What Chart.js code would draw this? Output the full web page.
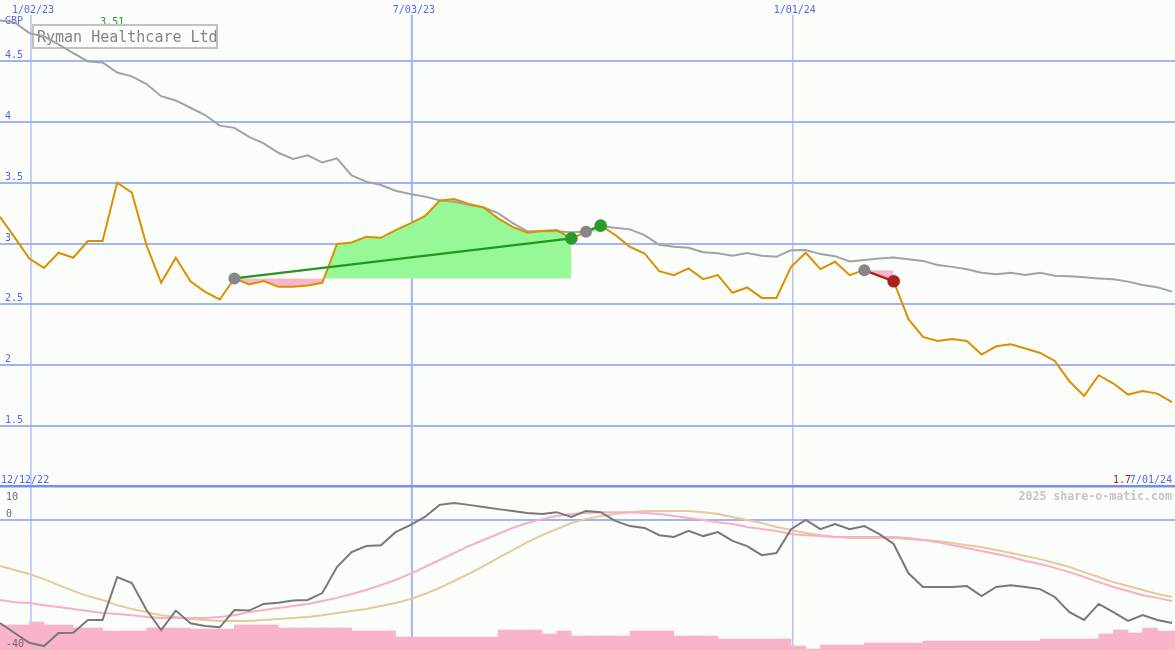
<!DOCTYPE html>
<html><head><meta charset="utf-8">
<script src="https://cdn.jsdelivr.net/npm/chart.js@4.4.1/dist/chart.umd.min.js"></script>
<style>
html,body{margin:0;padding:0;background:#fbfdfb;}
#wrap{position:relative;width:1175px;height:650px;overflow:hidden;background:#fbfdfb;}
#top{position:absolute;left:0;top:0;width:1175px;height:487px;}
#bot{position:absolute;left:0;top:487px;width:1175px;height:163px;}
</style></head><body>
<div id="wrap"><canvas id="top" width="1175" height="487"></canvas><canvas id="bot" width="1175" height="163"></canvas></div>
<script>
// ---- data (weekly, index 0 = first visible week) ----
const price = [3.22,3.05,2.877,2.80,2.924,2.883,3.02,3.02,3.50,3.417,
  2.987,2.677,2.883,2.69,2.603,2.54,2.713,2.664,2.691,2.644,
  2.644,2.655,2.677,2.996,3.009,3.055,3.047,3.11,3.165,3.225,
  3.351,3.365,3.324,3.297,3.206,3.137,3.088,3.102,3.11,3.042,
  3.096,3.147,3.07,2.973,2.918,2.773,2.74,2.795,2.707,2.74,
  2.595,2.639,2.553,2.553,2.808,2.924,2.79,2.85,2.74,2.781,
  2.735,2.69,2.38,2.233,2.2,2.216,2.2,2.088,2.156,2.173,
  2.137,2.101,2.035,1.868,1.748,1.918,1.85,1.759,1.789,1.767,1.698];
const average = [4.832,4.816,4.728,4.70,4.635,4.563,4.495,4.487,4.404,4.373,
  4.31,4.21,4.175,4.115,4.055,3.968,3.95,3.876,3.822,3.745,
  3.695,3.724,3.665,3.70,3.56,3.508,3.48,3.433,3.406,3.385,
  3.355,3.342,3.318,3.297,3.25,3.168,3.10,3.10,3.10,3.092,
  3.097,3.14,3.13,3.116,3.069,2.99,2.973,2.965,2.928,2.92,
  2.90,2.922,2.90,2.891,2.945,2.946,2.913,2.896,2.852,2.864,
  2.877,2.884,2.87,2.857,2.823,2.808,2.788,2.76,2.748,2.759,
  2.741,2.759,2.735,2.732,2.722,2.713,2.706,2.687,2.66,2.64,2.605];
const momentum = [-34.0,-37.3,-40.5,-41.6,-37.3,-37.2,-33.0,-33.0,-18.8,-20.8,
  -29.7,-36.3,-29.9,-34.1,-35.0,-35.4,-29.7,-29.9,-27.7,-27.3,
  -26.6,-26.4,-24.1,-15.5,-10.6,-8.6,-8.3,-4.0,-1.7,1.0,
  5.0,5.6,5.0,4.3,3.6,3.0,2.3,2.0,2.6,1.0,
  3.0,2.6,-0.3,-2.0,-2.6,-5.0,-5.6,-3.6,-5.3,-4.0,
  -6.9,-8.6,-11.6,-10.9,-3.0,0,-3.0,-1.3,-3.0,-2.0,
  -4.6,-7.9,-17.5,-22.1,-22.1,-22.1,-21.8,-25.1,-22.1,-21.5,
  -22.1,-22.8,-25.4,-30.4,-33.0,-27.7,-30.4,-33.3,-31.4,-33.0,-34.0];
const signalFast = [-26.4,-27.1,-27.4,-28.1,-28.7,-29.4,-30.0,-30.7,-31.0,-31.4,
  -32.0,-32.3,-32.3,-32.3,-32.3,-32.0,-31.4,-30.4,-29.7,-29.0,
  -28.4,-27.7,-26.7,-25.7,-24.4,-23.1,-21.5,-19.8,-17.8,-15.5,
  -13.2,-10.9,-8.6,-6.6,-4.6,-2.6,-1.0,0.3,1.3,2.0,
  2.3,2.6,2.6,2.6,2.3,2.0,1.3,0.7,0,-0.7,
  -1.3,-2.3,-3.0,-3.6,-4.6,-5.0,-5.3,-5.6,-5.6,-5.6,
  -5.6,-5.6,-5.9,-6.6,-7.3,-8.3,-9.2,-10.2,-11.2,-12.2,
  -13.5,-14.5,-15.8,-17.2,-18.8,-20.5,-22.1,-23.4,-24.8,-25.7,-26.7];
const signalSlow = [-15.2,-16.5,-17.8,-19.5,-21.5,-23.4,-25.1,-26.4,-28.1,-29.4,
  -30.4,-31.4,-32.0,-32.7,-33.0,-33.3,-33.3,-33.3,-33.0,-32.7,
  -32.3,-32.0,-31.4,-30.7,-30.0,-29.4,-28.4,-27.4,-26.1,-24.4,
  -22.4,-20.1,-17.8,-15.2,-12.5,-9.9,-7.3,-5.0,-3.0,-1.0,
  0.3,1.3,2.0,2.6,3.0,3.0,3.0,3.0,2.6,2.0,
  1.0,0,-1.0,-2.3,-3.3,-4.3,-5.0,-5.6,-5.9,-5.9,
  -5.9,-5.9,-6.3,-6.6,-6.9,-7.6,-8.3,-8.9,-9.9,-10.9,
  -11.9,-12.9,-14.2,-15.5,-17.2,-18.8,-20.5,-21.8,-23.1,-24.4,-25.4];
const volume = [25,25,28,25,25,22,22,19,19,19,
  22,22,22,21,21,21,25,25,25,22,
  22,22,22,22,19,19,19,13,13,13,
  13,13,13,13,20,20,20,16,19,14,
  14,14,14,19,19,19,14,14,14,11,
  11,11,11,11,4,1,5,5,5,7,
  7,7,7,9,9,9,9,9,9,9,
  9,11,11,11,11,16,20,17,22,19,19];
const tradeEntry = [16, 40, 59];
const tradeExit = [39, 41, 61];
const priceTicks = [4.5, 4, 3.5, 3, 2.5, 2, 1.5];
const dateTickPos = [2.116, 28.116, 54.116];
const dateTickLabels = ['1/02/23', '7/03/23', '1/01/24'];
const oscTickVals = [10, 0, -40];
const oscTickLabels = ['10', '0', '-40'];
const title = 'Ryman Healthcare Ltd';
const currency = 'GBP';
const firstDate = '12/12/22';
const lastDate = '7/01/24';
const maxLabel = '3.51';
const lastLabel = '1.7';

// ---- styles ----
const GRID = '#a4b3f2', BLUE = '#5466e8', FONT = '10px "DejaVu Sans Mono", "Liberation Mono", monospace';
const XMAX = 1175 / 14.65;
const pts = arr => arr.map((v, i) => ({x: i, y: v}));
const seg = (a, b) => price.slice(a, b + 1).map((v, k) => ({x: a + k, y: v}));

const topDatasets = [];
topDatasets.push({
  type: 'scatter', data: tradeExit.map(i => ({x: i, y: price[i]})),
  pointRadius: 6.3, pointBorderWidth: 0,
  pointBackgroundColor: tradeExit.map((e, k) => price[e] >= price[tradeEntry[k]] ? '#2a9a2a' : '#a82222'),
  showLine: false
});
topDatasets.push({
  type: 'scatter', data: tradeEntry.map(i => ({x: i, y: price[i]})),
  pointRadius: 6, pointBorderWidth: 0, pointBackgroundColor: '#868686', showLine: false
});
tradeEntry.forEach((e, k) => {
  const x = tradeExit[k];
  topDatasets.push({
    data: [{x: e, y: price[e]}, {x: x, y: price[x]}],
    borderColor: price[x] >= price[e] ? '#229622' : '#b01c1c', borderWidth: 2.2, pointRadius: 0
  });
});
topDatasets.push({data: pts(price), borderColor: '#da9000', borderWidth: 2, pointRadius: 0});
topDatasets.push({data: pts(average), borderColor: '#a2a2a2', borderWidth: 2, pointRadius: 0});
tradeEntry.forEach((e, k) => {
  topDatasets.push({
    data: seg(e, tradeExit[k]), borderWidth: 0, borderColor: 'rgba(0,0,0,0)', pointRadius: 0,
    fill: {target: {value: price[e]}, above: '#97f897', below: '#f9b5c9'}
  });
});

function text(ctx, s, x, y, color, align, font) {
  ctx.font = font || FONT; ctx.fillStyle = color; ctx.textAlign = align || 'left'; ctx.textBaseline = 'alphabetic';
  ctx.fillText(s, x, y);
}

const topDecor = {
  id: 'topDecor',
  beforeDatasetsDraw(chart) {
    const {ctx, scales: {x, y}} = chart;
    ctx.save();
    ctx.strokeStyle = GRID; ctx.lineWidth = 2;
    priceTicks.forEach(v => {
      const py = Math.round(y.getPixelForValue(v));
      ctx.beginPath(); ctx.moveTo(0, py); ctx.lineTo(1175, py); ctx.stroke();
    });
    dateTickPos.forEach((v, k) => {
      const px = x.getPixelForValue(v);
      ctx.lineWidth = k === 1 ? 2 : 1.2;
      ctx.beginPath(); ctx.moveTo(px, 15); ctx.lineTo(px, 487); ctx.stroke();
      text(ctx, dateTickLabels[k], px + 2, 13, BLUE, 'center');
    });
    ctx.fillStyle = '#7b8cf0'; ctx.fillRect(0, 485, 1175, 2.5);
    priceTicks.forEach(v => {
      text(ctx, String(v), 5, y.getPixelForValue(v) - 3, BLUE, 'left');
    });
    text(ctx, currency, 5, 24, BLUE, 'left');
    const imax = price.indexOf(Math.max(...price));
    text(ctx, maxLabel, x.getPixelForValue(imax) - 5, 25, '#1f9a1f', 'center');
    ctx.strokeStyle = '#c2c2c2'; ctx.lineWidth = 2;
    ctx.strokeRect(33, 25, 184, 23);
    text(ctx, title, 37, 42, '#848484', 'left', '15px "DejaVu Sans Mono", "Liberation Mono", monospace');
    text(ctx, firstDate, 1, 483, BLUE, 'left');
    text(ctx, lastDate, 1172, 483, BLUE, 'right');
    text(ctx, lastLabel, 1131, 483, '#aa1c1c', 'right');
    ctx.restore();
  }
};

new Chart(document.getElementById('top'), {
  type: 'line',
  data: {datasets: topDatasets},
  options: {
    responsive: false, animation: false, events: [],
    layout: {padding: 0, autoPadding: false},
    elements: {line: {tension: 0}},
    scales: {
      x: {type: 'linear', min: 0, max: XMAX, display: false},
      y: {type: 'linear', min: 1, max: 5, display: false}
    },
    plugins: {legend: {display: false}, tooltip: {enabled: false}}
  },
  plugins: [topDecor]
});

const botDecor = {
  id: 'botDecor',
  beforeDatasetsDraw(chart) {
    const {ctx, scales: {x, y}} = chart;
    ctx.save();
    ctx.strokeStyle = GRID;
    dateTickPos.forEach((v, k) => {
      const px = x.getPixelForValue(v);
      ctx.lineWidth = k === 1 ? 2 : 1.2;
      ctx.beginPath(); ctx.moveTo(px, 0); ctx.lineTo(px, 163); ctx.stroke();
    });
    ctx.lineWidth = 2;
    const p0 = Math.round(y.getPixelForValue(0));
    ctx.beginPath(); ctx.moveTo(0, p0); ctx.lineTo(1175, p0); ctx.stroke();
    ctx.fillStyle = '#7b8cf0'; ctx.fillRect(0, 0, 1175, 0.5);
    text(ctx, '2025 share-o-matic.com', 1172, 13, '#c4c4c4', 'right', 'bold 11.6px "DejaVu Sans Mono", "Liberation Mono", monospace');
    ctx.restore();
  },
  afterDatasetsDraw(chart) {
    const {ctx, scales: {y}} = chart;
    ctx.save();
    const offs = [10, -3, 6];
    oscTickVals.forEach((v, k) => {
      text(ctx, oscTickLabels[k], 6, y.getPixelForValue(v) + offs[k], '#6a6a6a', 'left');
    });
    ctx.restore();
  }
};

new Chart(document.getElementById('bot'), {
  type: 'line',
  data: {datasets: [
    {data: pts(momentum), borderColor: '#787878', borderWidth: 2, pointRadius: 0},
    {data: pts(signalFast), borderColor: '#f7aec6', borderWidth: 2, pointRadius: 0},
    {data: pts(signalSlow), borderColor: '#e6c99a', borderWidth: 2, pointRadius: 0},
    {type: 'bar', data: volume.map((v, i) => ({x: i + 0.5, y: v})), yAxisID: 'yv',
     backgroundColor: '#f9b4c8', borderWidth: 0, barPercentage: 1, categoryPercentage: 1, grouped: false}
  ]},
  options: {
    responsive: false, animation: false, events: [],
    layout: {padding: 0, autoPadding: false},
    elements: {line: {tension: 0}},
    scales: {
      x: {type: 'linear', min: 0, max: XMAX, display: false, offset: false},
      y: {type: 'linear', min: -42.9, max: 10.9, display: false},
      yv: {type: 'linear', min: 0, max: 163, display: false}
    },
    plugins: {legend: {display: false}, tooltip: {enabled: false}}
  },
  plugins: [botDecor]
});
</script>
</body></html>
